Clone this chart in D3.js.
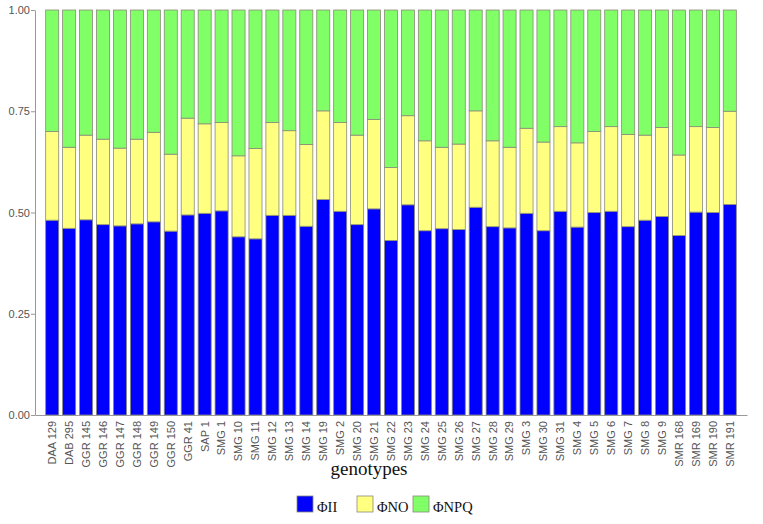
<!DOCTYPE html>
<html>
<head>
<meta charset="utf-8">
<script src="https://cdn.jsdelivr.net/npm/d3@7"></script>
<style>
  html, body { margin: 0; padding: 0; background: #fff; }
  svg { display: block; }
</style>
</head>
<body>
<svg id="chart" width="763" height="524"></svg>
<script>
const categories = ["DAA 129","DAB 295","GGR 145","GGR 146","GGR 147","GGR 148","GGR 149","GGR 150","GGR 41","SAP 1","SMG 1","SMG 10","SMG 11","SMG 12","SMG 13","SMG 14","SMG 19","SMG 2","SMG 20","SMG 21","SMG 22","SMG 23","SMG 24","SMG 25","SMG 26","SMG 27","SMG 28","SMG 29","SMG 3","SMG 30","SMG 31","SMG 4","SMG 5","SMG 6","SMG 7","SMG 8","SMG 9","SMR 168","SMR 169","SMR 190","SMR 191"];
const phiII  = [0.481,0.461,0.482,0.470,0.467,0.472,0.477,0.454,0.494,0.498,0.504,0.440,0.435,0.493,0.493,0.466,0.532,0.503,0.470,0.509,0.431,0.519,0.455,0.460,0.458,0.513,0.465,0.462,0.498,0.455,0.503,0.464,0.500,0.503,0.465,0.481,0.490,0.443,0.501,0.500,0.520];
const phiNO  = [0.219,0.200,0.209,0.211,0.192,0.209,0.221,0.190,0.239,0.221,0.218,0.200,0.223,0.229,0.209,0.202,0.219,0.219,0.221,0.221,0.180,0.220,0.222,0.201,0.211,0.238,0.212,0.199,0.210,0.219,0.209,0.208,0.200,0.209,0.228,0.210,0.220,0.199,0.211,0.210,0.230];
const phiNPQ = [0.300,0.339,0.309,0.319,0.341,0.319,0.302,0.356,0.267,0.281,0.278,0.360,0.342,0.278,0.298,0.332,0.249,0.278,0.309,0.270,0.389,0.261,0.323,0.339,0.331,0.249,0.323,0.339,0.292,0.326,0.288,0.328,0.300,0.288,0.307,0.309,0.290,0.358,0.288,0.290,0.250];
const seriesNames = ["ΦII","ΦNO","ΦNPQ"];
const yTicks = [0, 0.25, 0.5, 0.75, 1.0];
const xTitle = "genotypes";

const colors = ["#0000ff", "#ffff80", "#80ff66"];
const svg = d3.select("#chart");

const rows = categories.map((c, i) => ({cat: c, "ΦII": phiII[i], "ΦNO": phiNO[i], "ΦNPQ": phiNPQ[i]}));
const stacked = d3.stack().keys(seriesNames)(rows);

const x = d3.scaleBand().domain(categories).range([35, 747]).paddingInner(0.23).paddingOuter(0.63);
const y = d3.scaleLinear().domain([0, 1]).range([415, 10]);
const color = d3.scaleOrdinal().domain(seriesNames).range(colors);

// bars
svg.append("g").selectAll("g").data(stacked).join("g")
  .attr("fill", d => color(d.key))
  .selectAll("rect").data(d => d).join("rect")
  .attr("x", d => x(d.data.cat))
  .attr("width", x.bandwidth())
  .attr("y", d => y(d[1]))
  .attr("height", d => y(d[0]) - y(d[1]))
  .attr("stroke", "#8a8a7a")
  .attr("stroke-width", 0.8);

// y axis
const yAxis = svg.append("g").attr("transform", "translate(35,0)")
  .call(d3.axisLeft(y).tickValues(yTicks).tickFormat(d3.format(".2f")).tickSize(4).tickSizeOuter(0));
yAxis.select(".domain").attr("stroke", "#999");
yAxis.selectAll(".tick line").attr("stroke", "#999");
yAxis.selectAll(".tick text").attr("fill", "#555").style("font-family", "Liberation Sans, Arial, sans-serif").style("font-size", "11px").attr("x", -5);

// x axis
const xAxis = svg.append("g").attr("transform", "translate(0,415)")
  .call(d3.axisBottom(x).tickSize(0).tickSizeOuter(0));
xAxis.select(".domain").attr("stroke", "#999");
xAxis.selectAll(".tick text")
  .attr("fill", "#555")
  .style("font-family", "Liberation Sans, Arial, sans-serif")
  .style("font-size", "11px")
  .attr("transform", "rotate(-90)")
  .attr("text-anchor", "end")
  .attr("x", -6)
  .attr("y", 0)
  .attr("dy", "0.35em");

// x title
svg.append("text")
  .attr("x", 369).attr("y", 475)
  .attr("text-anchor", "middle")
  .style("font-family", "Liberation Serif, Times New Roman, serif")
  .style("font-size", "19px")
  .attr("fill", "#111")
  .text(xTitle);

// legend
const legendX = [297, 357, 413];
const legend = svg.append("g").selectAll("g").data(seriesNames).join("g")
  .attr("transform", (d, i) => `translate(${legendX[i]},496)`);
legend.append("rect").attr("width", 16).attr("height", 16)
  .attr("fill", d => color(d)).attr("stroke", "#8a8a7a").attr("stroke-width", 0.8);
legend.append("text").attr("x", 20).attr("y", 15.5)
  .style("font-family", "Liberation Serif, Times New Roman, serif")
  .style("font-size", "14.5px")
  .attr("fill", "#111")
  .text(d => d);
</script>
</body>
</html>
